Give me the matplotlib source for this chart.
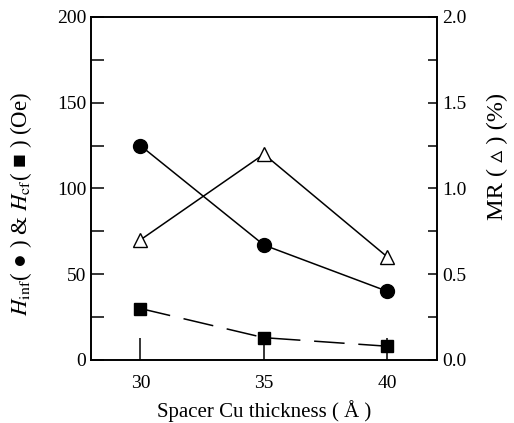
import matplotlib
matplotlib.use("Agg")
import matplotlib.pyplot as plt
from matplotlib.ticker import MultipleLocator

plt.rcParams['font.family'] = ['Liberation Serif', 'DejaVu Sans']
plt.rcParams['mathtext.fontset'] = 'stix'

thickness = [30, 35, 40]
h_inf = [125, 67, 40]
h_cf = [30, 13, 8]
mr = [0.7, 1.2, 0.6]

fig = plt.figure(figsize=(5.14, 4.23), dpi=100)
ax = fig.add_axes([0.177, 0.149, 0.673, 0.811])
ax2 = ax.twinx()

ax.plot(thickness, h_inf, 'k-', marker='o', ms=10, lw=1.1)
ax.plot(thickness, h_cf, 'k', ls=(0, (20, 9)), marker='s', ms=9, lw=1.1)
ax2.plot(thickness, mr, 'k-', marker='^', ms=10, mfc='white', mec='k', lw=1.1)

ax.set_xlim(28, 42)
ax.set_ylim(0, 200)
ax2.set_ylim(0, 2.0)
ax.set_xticks(thickness)
ax.yaxis.set_major_locator(MultipleLocator(50))
ax.yaxis.set_minor_locator(MultipleLocator(25))
ax2.yaxis.set_major_locator(MultipleLocator(0.5))
ax2.yaxis.set_minor_locator(MultipleLocator(0.25))
ax2.set_yticklabels([f"{v:.1f}" for v in ax2.get_yticks()])

ax.tick_params(axis='x', direction='in', length=16, width=1.1, labelsize=14, pad=11)
ax.tick_params(axis='y', which='both', direction='in', length=9, width=1.1, labelsize=14)
ax2.tick_params(axis='y', which='both', direction='in', length=6.5, width=1.1, labelsize=14)

for a in (ax, ax2):
    for s in a.spines.values():
        s.set_linewidth(1.2)

ax.set_xlabel("Spacer Cu thickness ( Å )", fontsize=15, labelpad=6)
ax.set_ylabel(r"$H_{\rm inf}$( ● ) & $H_{\rm cf}$( ■ ) (Oe)", fontsize=16.5)
ax.yaxis.set_label_coords(-0.165, 0.456)
ax2.set_ylabel("MR ( ▵ ) (%)", fontsize=17.5)
ax2.yaxis.set_label_coords(1.145, 0.592)

fig.savefig("out.png", dpi=100)
